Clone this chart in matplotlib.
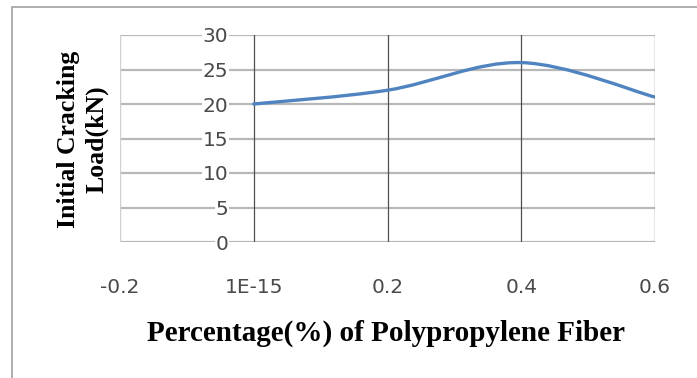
import matplotlib.pyplot as plt
from matplotlib.path import Path
from matplotlib.patches import PathPatch, Rectangle

fiber_pct = [0.0, 0.2, 0.4, 0.6]
crack_load = [20, 22, 26, 21]
x_ticks = [-0.2, 0.0, 0.2, 0.4, 0.6]
x_tick_labels = ["-0.2", "1E-15", "0.2", "0.4", "0.6"]
y_ticks = [0, 5, 10, 15, 20, 25, 30]


def smooth_path(xs, ys, tension=1 / 6):
    # Catmull-Rom style bezier through the points
    verts = [(xs[0], ys[0])]
    codes = [Path.MOVETO]
    n = len(xs)
    for i in range(n - 1):
        x0, y0 = (xs[i - 1], ys[i - 1]) if i > 0 else (xs[i], ys[i])
        x1, y1 = xs[i], ys[i]
        x2, y2 = xs[i + 1], ys[i + 1]
        x3, y3 = (xs[i + 2], ys[i + 2]) if i + 2 < n else (x2, y2)
        c1 = (x1 + (x2 - x0) * tension, y1 + (y2 - y0) * tension)
        c2 = (x2 - (x3 - x1) * tension, y2 - (y3 - y1) * tension)
        verts += [c1, c2, (x2, y2)]
        codes += [Path.CURVE4] * 3
    return Path(verts, codes)


fig = plt.figure(figsize=(6.97, 3.78), dpi=100)
fig.patches.append(Rectangle((12 / 697, -0.1), 1.2, 1 - 7 / 378 + 0.1,
                             transform=fig.transFigure, fill=False,
                             edgecolor="#a0a0a0", lw=1.2))

ax = fig.add_axes([120 / 697, 1 - 242 / 378, 535 / 697, 207 / 378])
ax.set_xlim(-0.2, 0.6)
ax.set_ylim(0, 30)

for y in y_ticks:
    ax.axhline(y, color="#b8b8b8", lw=1.6, zorder=1)
for x in x_ticks[1:]:
    ax.axvline(x, color="#505050", lw=0.9, zorder=1)
ax.axvline(-0.2, color="#d0d0d0", lw=1.0, zorder=1)

ax.add_patch(PathPatch(smooth_path(fiber_pct, crack_load), fill=False,
                       edgecolor="#5084c0", lw=2.4, zorder=3,
                       capstyle="round"))

for s in ax.spines.values():
    s.set_visible(False)

ax.set_xticks(x_ticks)
ax.set_xticklabels(x_tick_labels)
ax.set_yticks(y_ticks)
ax.tick_params(length=0, labelsize=14.5, labelcolor="#4a4a4a")
ax.tick_params(axis="x", pad=26)
ax.tick_params(axis="y", pad=-78)
for lbl in ax.get_xticklabels() + ax.get_yticklabels():
    lbl.set_fontfamily("DejaVu Sans")
for lbl in ax.get_yticklabels():
    lbl.set_bbox(dict(facecolor="white", edgecolor="none", pad=0.5))
    lbl.set_zorder(2)

fig.text(386 / 697, 1 - 333 / 378, "Percentage(%) of Polypropylene Fiber",
         ha="center", va="center", fontsize=21, fontweight="bold",
         family="Liberation Serif")
fig.text(83 / 697, 1 - 139 / 378, "Initial Cracking\nLoad(kN)",
         ha="center", va="center", rotation=90, fontsize=18.5,
         fontweight="bold", family="Liberation Serif", linespacing=1.28)

plt.savefig("out.png", dpi=100)
plt.close()
